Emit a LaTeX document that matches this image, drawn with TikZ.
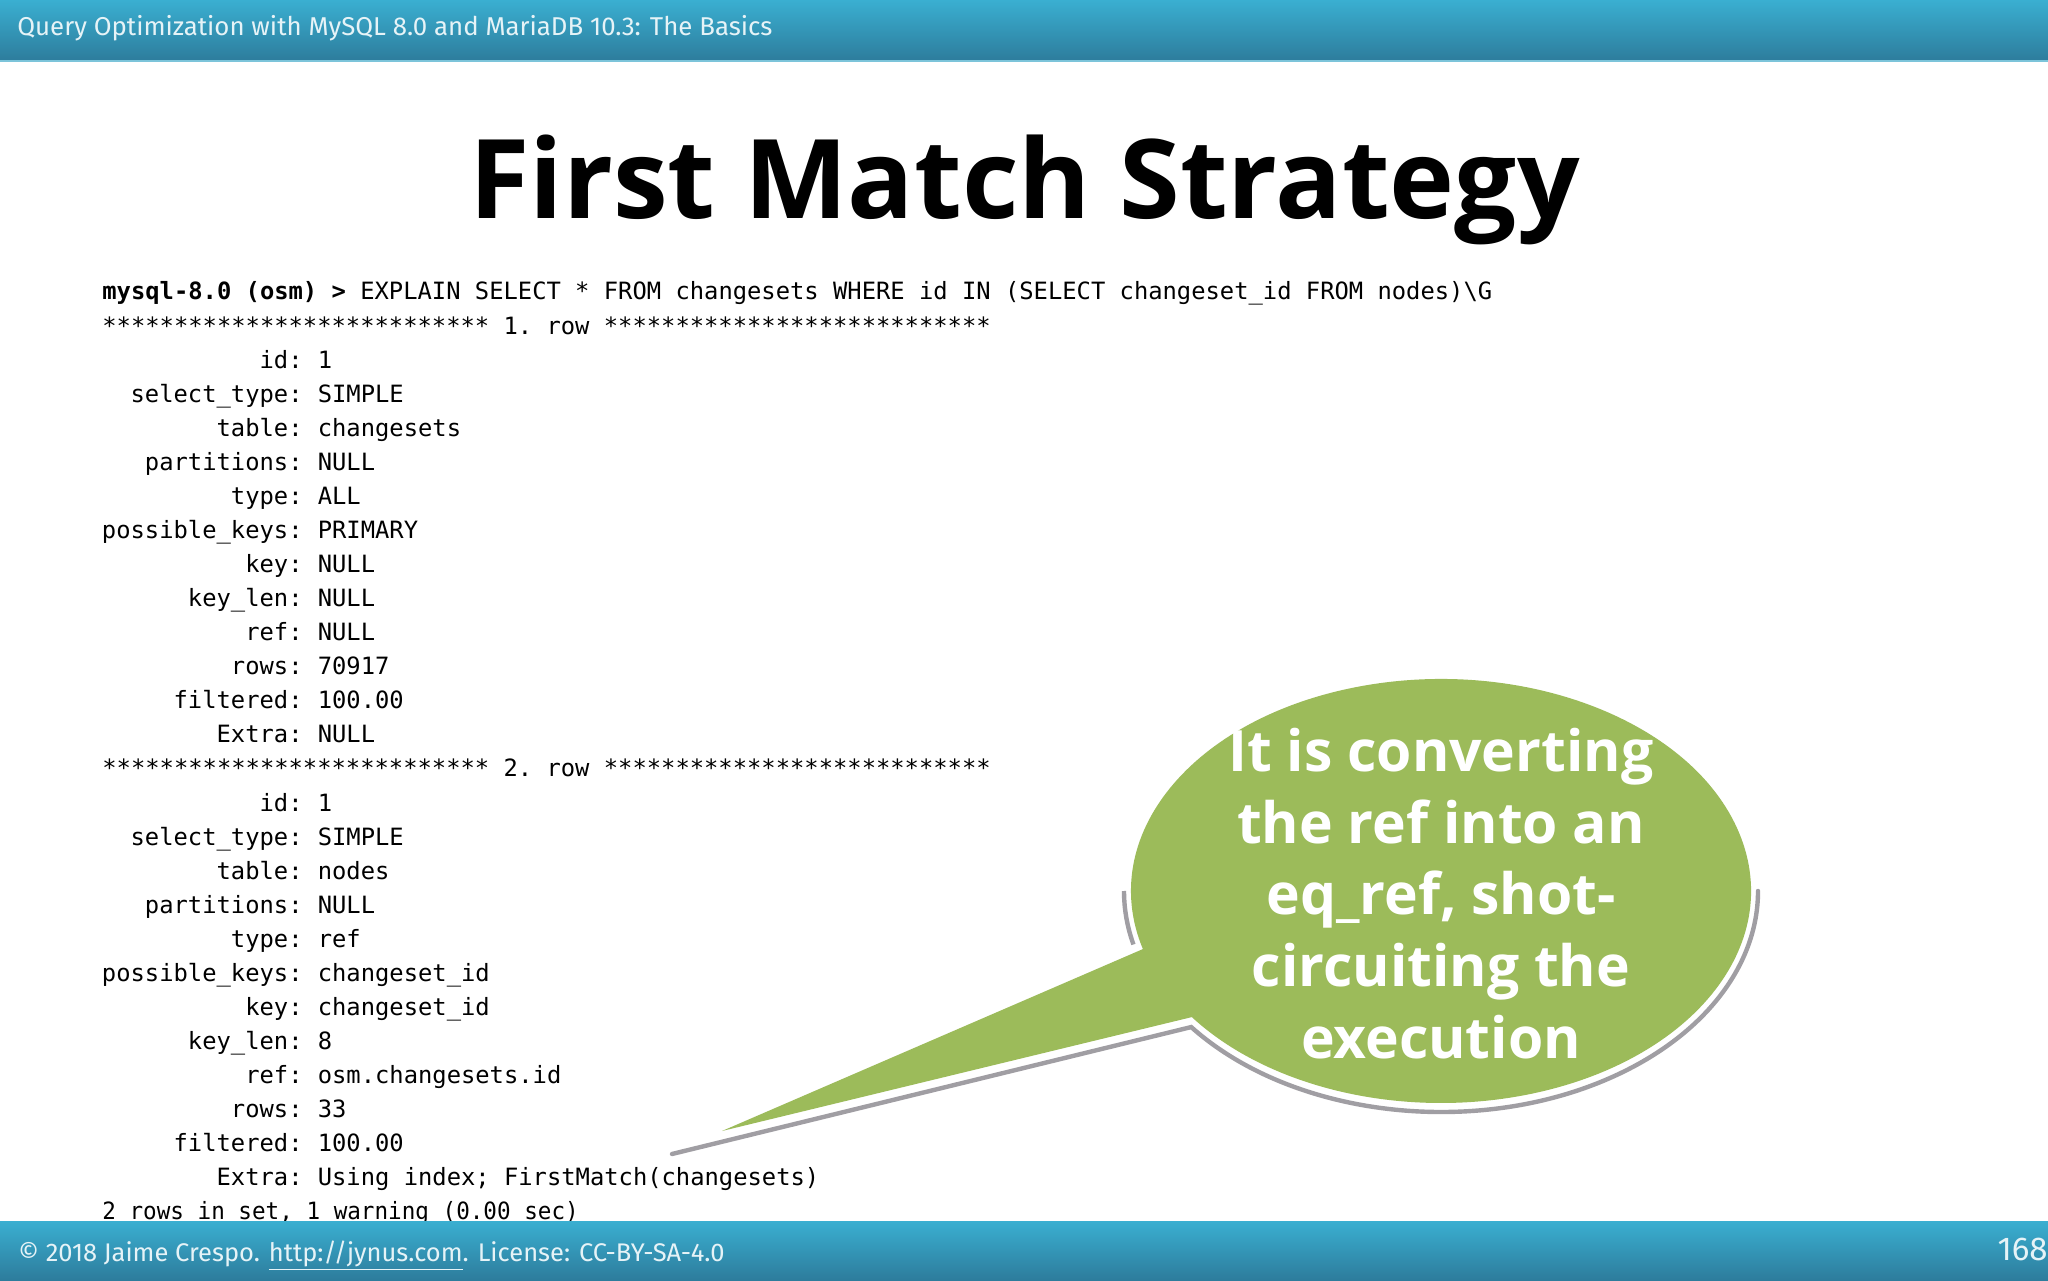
\documentclass[tikz,border=0pt]{standalone}
\usepackage{fontspec}
\setmainfont{Fira Sans}
\setmonofont{DejaVu Sans Mono}
\newfontfamily\headfont{Open Sans}
\usetikzlibrary{positioning}
\definecolor{barTop}{HTML}{3AAFD1}
\definecolor{barBot}{HTML}{2D7C9C}
\definecolor{barText}{HTML}{E6F3F7}
\definecolor{barEdge}{HTML}{7CC4DA}
\definecolor{bubbleGreen}{HTML}{9CBB5A}
\definecolor{bubbleGray}{HTML}{A09EA3}
\tikzset{
  bar/.style={bottom color=barBot,top color=barTop,draw=none},
  bartext/.style={inner sep=0pt,text=barText,font=\fontsize{12.9}{15}\selectfont},
  keytext/.style={inner sep=0pt,anchor=base east,font=\ttfamily\fontsize{11.9}{14}\selectfont},
  valtext/.style={inner sep=0pt,anchor=base west,font=\ttfamily\fontsize{11.9}{14}\selectfont},
}
\begin{document}
\begin{tikzpicture}[x=0.5pt,y=0.5pt]
  \useasboundingbox (0,0) rectangle (2048,1280);
  \fill[white] (0,0) rectangle (2048,1280);
  % header
  \fill[bar] (0,1219) rectangle (2048,1280);
  \fill[barEdge] (0,1218) rectangle (2048,1220);
  \node(header)[bartext,anchor=base west] at (17,1244) {Query Optimization with MySQL 8.0 and MariaDB 10.3: The Basics};
  \node(title)[inner sep=0pt,anchor=base,font=\headfont\bfseries\fontsize{55}{60}\selectfont] at (1024.5,1061) {First Match Strategy};
  % console
  \node(prompt)[valtext] at (102,980) {\textbf{mysql-8.0 (osm) >} EXPLAIN SELECT * FROM changesets WHERE id IN (SELECT changeset\_id FROM nodes)\textbackslash G};
  \node(rowa)[valtext] at (102,945.9) {*************************** 1. row ***************************};
  \foreach \k/\v [count=\i] in {id/1,select\_type/SIMPLE,table/changesets,partitions/NULL,type/ALL,possible\_keys/PRIMARY,key/NULL,key\_len/NULL,ref/NULL,rows/70917,filtered/100.00,Extra/NULL}{
    \node(ka\i)[keytext] at (303,945.9-34.07*\i) {\k:};
    \node(va\i)[valtext] at (317.4,945.9-34.07*\i) {\v};
  }
  \node(rowb)[valtext] at (102,503) {*************************** 2. row ***************************};
  \foreach \k/\v [count=\i] in {id/1,select\_type/SIMPLE,table/nodes,partitions/NULL,type/ref,possible\_keys/changeset\_id,key/changeset\_id,key\_len/8,ref/osm.changesets.id,rows/33,filtered/100.00,Extra/{Using index; FirstMatch(changesets)}}{
    \node(kb\i)[keytext] at (303,503-34.07*\i) {\k:};
    \node(vb\i)[valtext] at (317.4,503-34.07*\i) {\v};
  }
  \node(summary)[valtext,xscale=0.95,transform shape] at (102,60.2) {2 rows in set, 1 warning (0.00 sec)};
  % footer
  \fill[bar] (0,0) rectangle (2048,59);
  \node(footer)[bartext,anchor=base west,font=\fontsize{12.75}{15}\selectfont] at (18,19) {© 2018 Jaime Crespo. \underline{http://jynus.com}. License: CC-BY-SA-4.0};
  \node(page)[bartext,anchor=base east,font=\fontsize{16.5}{18}\selectfont] at (2048,20) {168};
  % callout
  \coordinate(ctr) at (1441,389);
  \coordinate(tip) at (722,149);
  \coordinate(tipshadow) at (672,126);
  \path (ctr) ++(218:317 and 221) coordinate(joinshadow);
  \draw[bubbleGray,line width=2.2pt] (ctr) ++(180:317 and 221) arc[start angle=180,end angle=194,x radius=317,y radius=221];
  \draw[bubbleGray,line width=2.2pt,line cap=round] (tipshadow) -- (joinshadow) arc[start angle=218,end angle=360,x radius=317,y radius=221];
  \fill[bubbleGreen] (ctr) ++(195.9:310 and 212) arc[start angle=195.9,end angle=-143.5,x radius=310,y radius=212] -- (tip) -- cycle;
  \node(bubbletext)[inner sep=0pt,align=center,text=white,font=\headfont\bfseries\fontsize{28.5}{35.8}\selectfont] at (1441,386.5) {It is converting\\the ref into an\\eq\_ref, shot-\\circuiting the\\execution};
\end{tikzpicture}
\end{document}
